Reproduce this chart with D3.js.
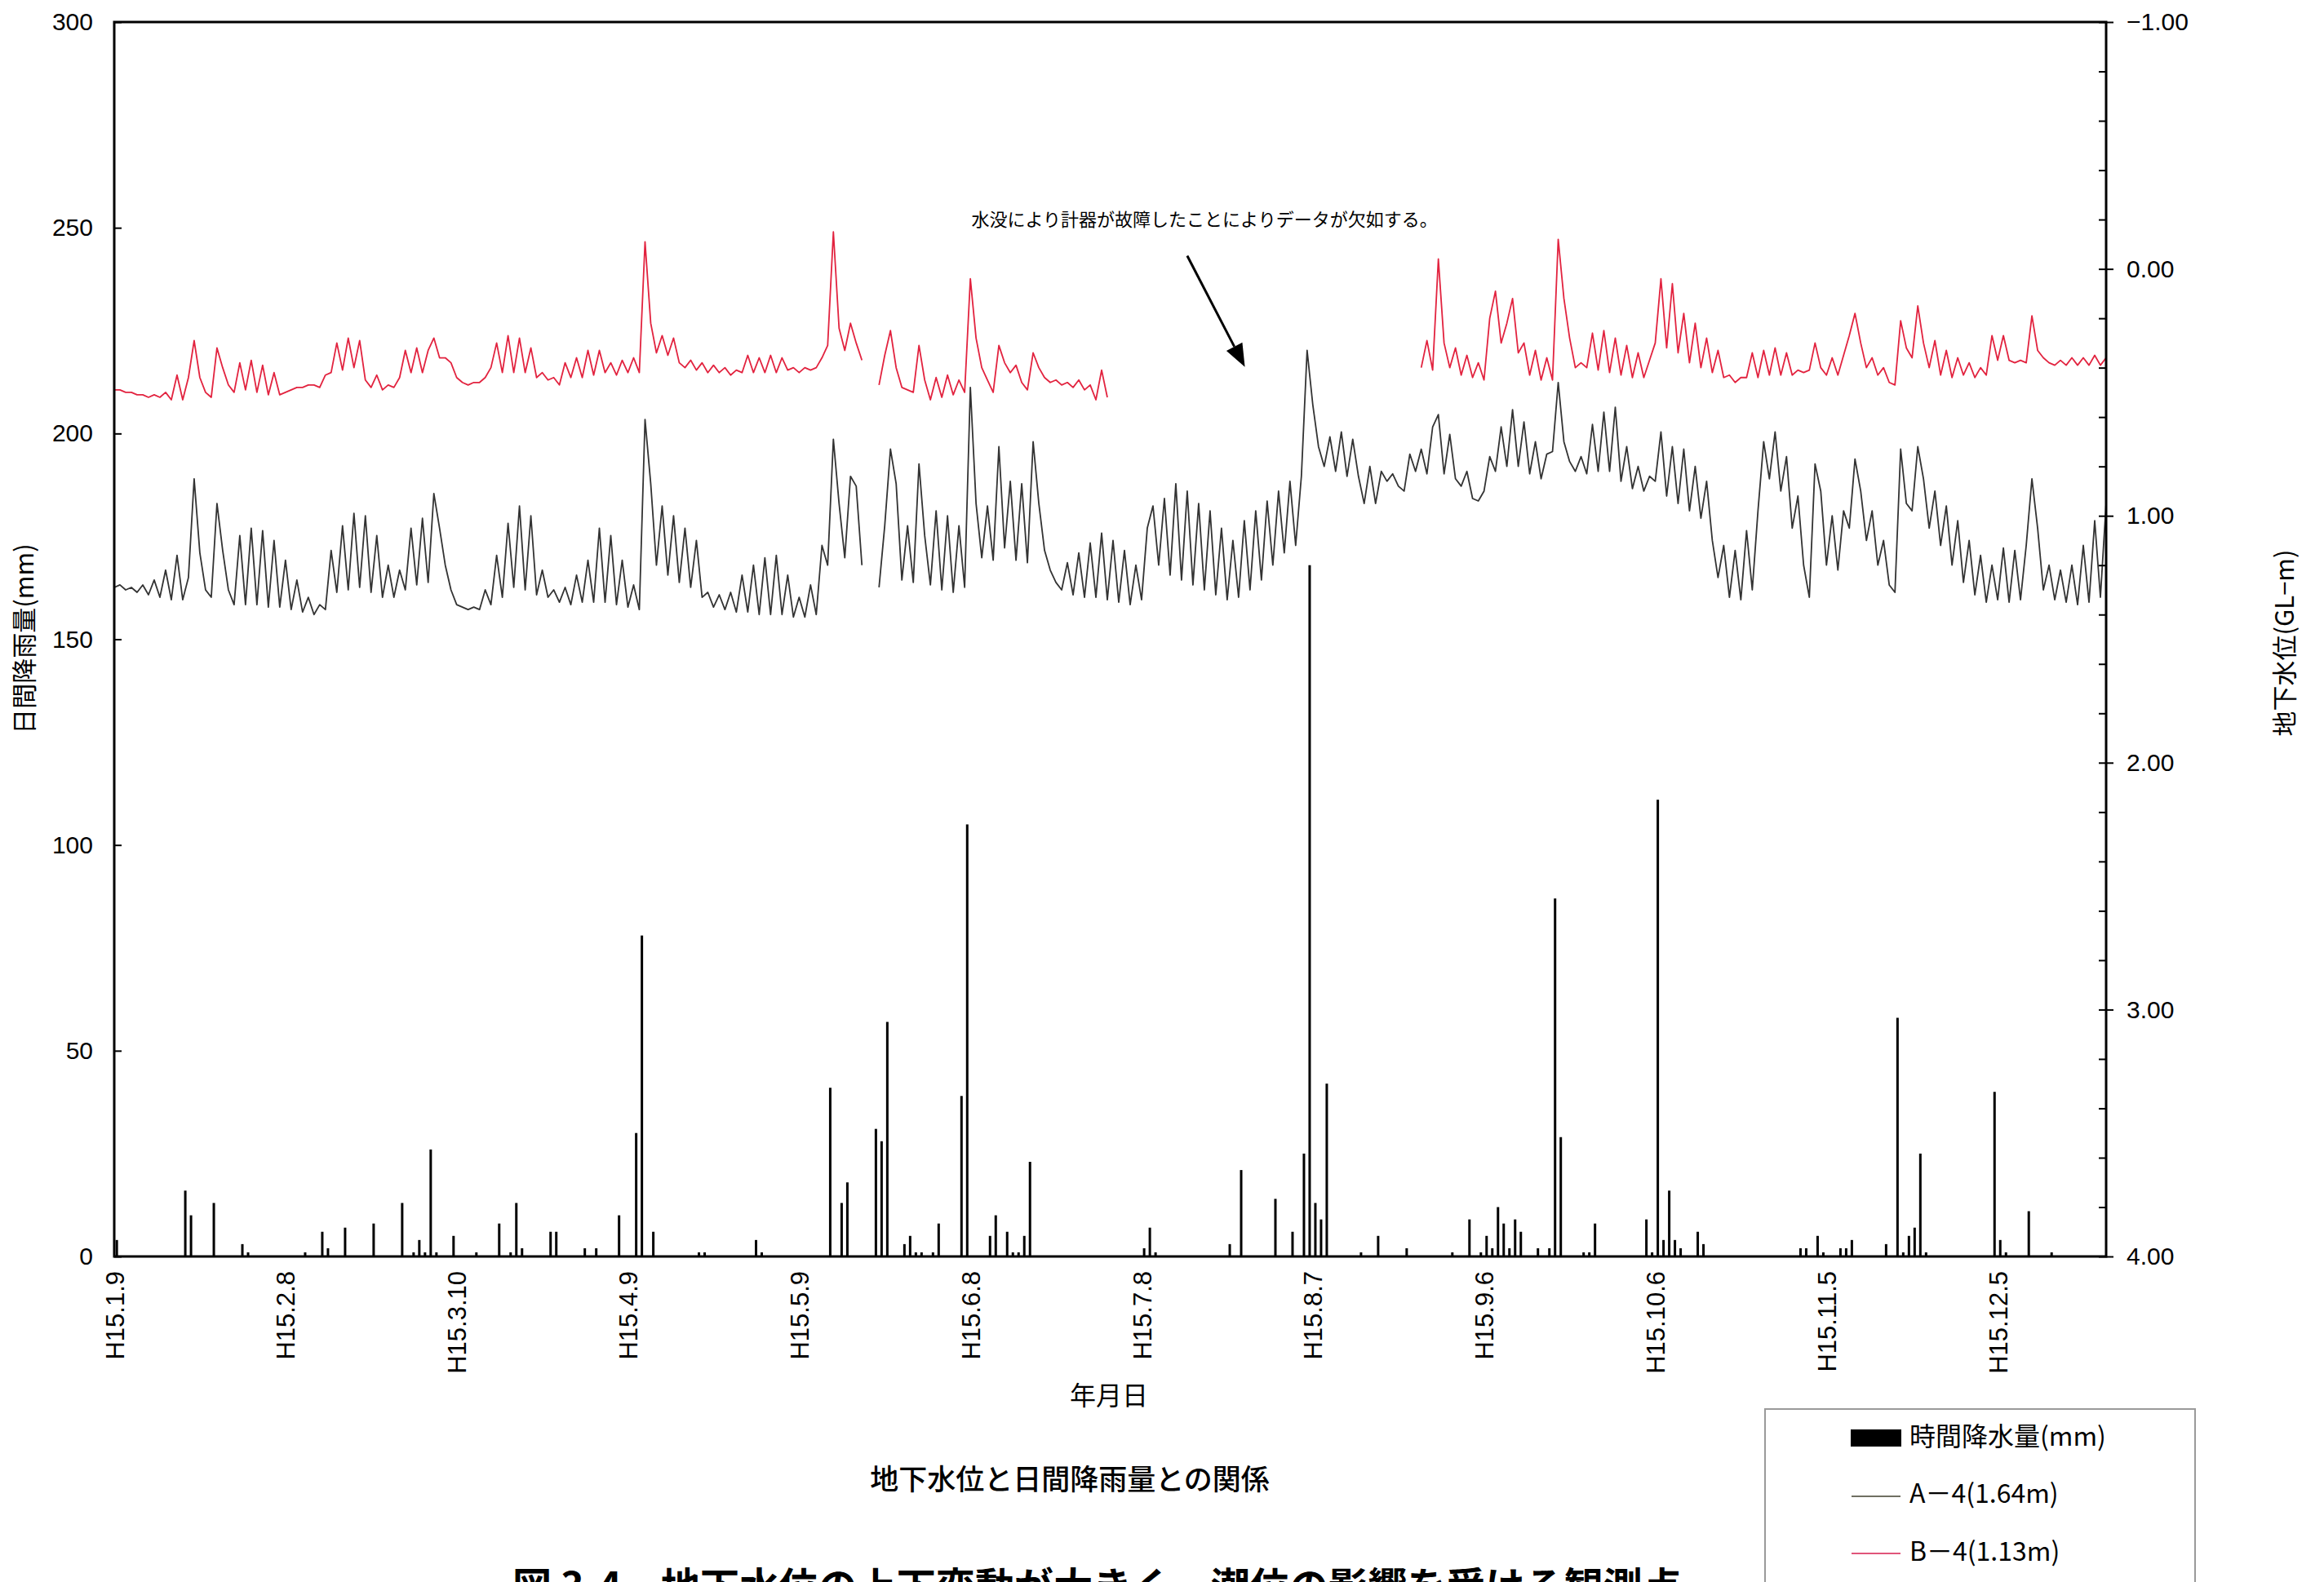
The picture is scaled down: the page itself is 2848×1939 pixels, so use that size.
<!DOCTYPE html>
<html>
<head>
<meta charset="utf-8">
<script src="https://cdn.jsdelivr.net/npm/d3@7"></script>
<style>
  html, body { margin: 0; padding: 0; background: #fff; }
  svg { display: block; }
</style>
</head>
<body>
<script>
const width = 2848;
const height = 1939;
const plotLeft = 140;
const plotRight = 2581;
const plotTop = 27;
const plotBottom = 1540;

const latin = '"Liberation Sans", Arial, sans-serif';
const jp = '"Noto Sans CJK JP", "Noto Sans CJK SC", sans-serif';

// day 0 = H15.1.9 (2003-01-09)
const startDate = Date.UTC(2003, 0, 9);
const lastDay = 349;

const tickDates = ["2003-01-09", "2003-02-08", "2003-03-10", "2003-04-09", "2003-05-09", "2003-06-08",
  "2003-07-08", "2003-08-07", "2003-09-06", "2003-10-06", "2003-11-05", "2003-12-05"];
const rainTicks = [0, 50, 100, 150, 200, 250, 300];
const levelTicks = [-1, 0, 1, 2, 3, 4];

// A-4 groundwater level (GL-m), one reading per day from day 0
const a4Level = [
  1.29,1.28,1.30,1.29,1.31,1.28,1.32,1.26,1.33,1.22,
  1.34,1.16,1.34,1.25,0.85,1.15,1.30,1.33,0.95,1.14,
  1.30,1.36,1.08,1.36,1.05,1.36,1.06,1.37,1.10,1.37,
  1.18,1.38,1.26,1.39,1.33,1.40,1.36,1.38,1.14,1.31,
  1.04,1.30,0.99,1.29,1.00,1.31,1.08,1.33,1.20,1.33,
  1.22,1.30,1.05,1.28,1.01,1.27,0.91,1.05,1.20,1.30,
  1.36,1.37,1.38,1.37,1.38,1.30,1.36,1.16,1.33,1.03,
  1.29,0.96,1.30,1.00,1.32,1.22,1.33,1.30,1.35,1.29,
  1.36,1.24,1.35,1.18,1.35,1.05,1.35,1.08,1.36,1.18,
  1.37,1.28,1.38,0.61,0.87,1.20,0.96,1.24,1.00,1.27,
  1.05,1.29,1.10,1.33,1.31,1.37,1.32,1.38,1.31,1.39,
  1.24,1.39,1.20,1.40,1.17,1.40,1.16,1.40,1.24,1.41,
  1.33,1.41,1.28,1.40,1.12,1.20,0.69,0.95,1.17,0.84,
  0.88,1.20,null,null,1.29,1.04,0.73,0.87,1.26,1.04,
  1.27,0.79,1.08,1.28,0.98,1.30,1.00,1.31,1.04,1.29,
  0.48,0.95,1.17,0.96,1.18,0.72,1.13,0.86,1.18,0.87,
  1.19,0.70,0.95,1.14,1.22,1.27,1.30,1.19,1.32,1.15,
  1.33,1.11,1.33,1.07,1.34,1.10,1.35,1.14,1.36,1.20,
  1.34,1.05,0.96,1.20,0.93,1.24,0.87,1.26,0.90,1.28,
  0.95,1.30,0.98,1.32,1.05,1.34,1.10,1.33,1.02,1.30,
  0.98,1.26,0.94,1.20,0.90,1.15,0.86,1.12,0.84,0.33,
  0.55,0.72,0.80,0.68,0.82,0.66,0.84,0.69,0.84,0.95,
  0.80,0.95,0.82,0.86,0.83,0.88,0.90,0.75,0.82,0.73,
  0.83,0.64,0.59,0.83,0.67,0.85,0.88,0.82,0.93,0.94,
  0.90,0.76,0.82,0.64,0.80,0.57,0.80,0.62,0.83,0.70,
  0.85,0.75,0.74,0.46,0.70,0.78,0.82,0.76,0.83,0.63,
  0.82,0.58,0.82,0.56,0.86,0.72,0.89,0.80,0.90,0.84,
  0.86,0.66,0.92,0.72,0.95,0.73,0.98,0.80,1.01,0.86,
  1.10,1.25,1.12,1.33,1.14,1.34,1.06,1.30,0.98,0.70,
  0.85,0.66,0.90,0.76,1.05,0.92,1.20,1.33,0.79,0.90,
  1.20,1.00,1.22,0.98,1.05,0.77,0.90,1.10,0.98,1.20,
  1.10,1.28,1.31,0.73,0.95,0.98,0.72,0.85,1.05,0.90,
  1.12,0.96,1.20,1.02,1.27,1.10,1.32,1.16,1.35,1.20,
  1.34,1.13,1.35,1.14,1.34,1.12,0.85,1.05,1.30,1.20,
  1.34,1.22,1.35,1.20,1.36,1.12,1.35,1.02,1.33,0.95
];

// B-4 groundwater level (GL-m): day 0..174, then missing until day 229
const b4First = [
  0.49,0.49,0.50,0.50,0.51,0.51,0.52,0.51,0.52,0.50,
  0.53,0.43,0.53,0.44,0.29,0.44,0.50,0.52,0.32,0.40,
  0.47,0.50,0.38,0.49,0.37,0.50,0.39,0.51,0.42,0.51,
  0.50,0.49,0.48,0.48,0.47,0.47,0.48,0.43,0.42,0.30,
  0.41,0.28,0.40,0.29,0.45,0.48,0.43,0.49,0.47,0.48,
  0.44,0.33,0.42,0.32,0.42,0.33,0.28,0.36,0.36,0.38,
  0.44,0.46,0.47,0.46,0.46,0.44,0.40,0.30,0.42,0.27,
  0.42,0.28,0.42,0.32,0.44,0.42,0.45,0.44,0.47,0.38,
  0.44,0.36,0.44,0.33,0.43,0.33,0.42,0.38,0.43,0.37,
  0.42,0.36,0.42,-0.11,0.22,0.34,0.27,0.35,0.28,0.38,
  0.40,0.37,0.41,0.38,0.42,0.39,0.42,0.40,0.43,0.41,
  0.42,0.35,0.42,0.36,0.42,0.35,0.42,0.36,0.41,0.40,
  0.42,0.40,0.41,0.40,0.36,0.31,-0.15,0.24,0.33,0.22,
  0.30,0.37,null,null,0.47,0.35,0.25,0.40,0.48,0.49,
  0.50,0.31,0.45,0.53,0.44,0.52,0.43,0.51,0.45,0.50,
  0.04,0.28,0.40,0.45,0.50,0.31,0.38,0.42,0.39,0.46,
  0.49,0.34,0.40,0.44,0.46,0.45,0.47,0.46,0.48,0.45,
  0.49,0.47,0.53,0.41,0.52
];
const b4SecondStart = 229;
const b4Second = [
  0.40,
  0.29,0.41,-0.04,0.30,0.40,0.32,0.43,0.35,0.44,0.38,
  0.45,0.20,0.09,0.30,0.22,0.12,0.34,0.30,0.43,0.33,
  0.45,0.36,0.45,-0.12,0.12,0.28,0.40,0.38,0.40,0.26,
  0.41,0.25,0.42,0.28,0.43,0.31,0.44,0.34,0.44,0.37,
  0.30,0.04,0.32,0.06,0.34,0.18,0.38,0.22,0.40,0.28,
  0.42,0.33,0.44,0.43,0.46,0.44,0.44,0.34,0.44,0.33,
  0.43,0.32,0.43,0.34,0.43,0.41,0.42,0.41,0.30,0.40,
  0.43,0.36,0.43,0.35,0.27,0.18,0.30,0.40,0.36,0.43,
  0.40,0.46,0.47,0.21,0.32,0.36,0.15,0.30,0.40,0.29,
  0.43,0.33,0.44,0.36,0.43,0.38,0.44,0.40,0.43,0.27,
  0.37,0.27,0.37,0.38,0.37,0.38,0.19,0.33,0.36,0.38,
  0.39,0.37,0.39,0.36,0.39,0.36,0.39,0.35,0.39,0.36
];

// daily rainfall (mm): day number and amount
const rainDay = [0,12,13,17,22,23,33,36,37,40,45,50,52,53,54,55,56,59,63,67,69,70,71,76,77,82,84,88,91,92,94,
  102,103,112,113,125,127,128,133,134,135,138,139,140,141,143,144,148,149,153,154,156,157,158,159,160,
  180,181,182,195,197,203,206,208,209,210,211,212,218,221,226,234,237,239,240,241,242,243,244,245,246,
  249,251,252,253,257,258,259,268,269,270,271,272,273,274,277,278,295,296,298,299,302,303,304,310,312,
  313,314,315,316,317,329,330,331,335,339];
const rainMm = [4,16,10,13,3,1,1,6,2,7,8,13,1,4,1,26,1,5,1,8,1,13,2,6,6,2,2,10,30,78,6,
  1,1,4,1,41,13,18,31,28,57,3,5,1,1,1,8,39,105,5,10,6,1,1,5,23,
  2,7,1,3,21,14,6,25,168,13,9,42,1,5,2,1,9,1,5,2,12,8,2,9,6,
  2,2,87,29,1,1,8,9,1,111,4,16,4,2,6,3,2,2,5,1,2,2,4,3,58,
  1,5,7,25,1,40,4,1,11,1];

const day = d => new Date(startDate + d * 864e5);

const x = d3.scaleUtc([day(0), day(lastDay)], [plotLeft, plotRight]);
const yRain = d3.scaleLinear([0, 300], [plotBottom, plotTop]);
const yLevel = d3.scaleLinear([-1, 4], [plotTop, plotBottom]);

const svg = d3.select("body").append("svg")
  .attr("width", width)
  .attr("height", height)
  .attr("viewBox", [0, 0, width, height]);

svg.append("rect").attr("width", width).attr("height", height).attr("fill", "#fff");

// rainfall bars
svg.append("g")
  .attr("fill", "#000")
  .selectAll("rect")
  .data(rainDay)
  .join("rect")
  .attr("x", (d) => x(day(d + 0.45)) - 1.5)
  .attr("width", 3)
  .attr("y", (d, i) => yRain(rainMm[i]))
  .attr("height", (d, i) => yRain(0) - yRain(rainMm[i]));

// groundwater lines
const line = d3.line()
  .defined(p => p.v != null)
  .x(p => x(day(p.d)))
  .y(p => yLevel(p.v));

const a4Points = a4Level.map((v, d) => ({ d, v }));
const b4Points = b4First.map((v, d) => ({ d, v }))
  .concat([{ d: b4First.length, v: null }])
  .concat(b4Second.map((v, i) => ({ d: b4SecondStart + i, v })));

svg.append("path")
  .attr("fill", "none")
  .attr("stroke", "#333")
  .attr("stroke-width", 1.8)
  .attr("stroke-linejoin", "round")
  .attr("d", line(a4Points));

svg.append("path")
  .attr("fill", "none")
  .attr("stroke", "#e2233f")
  .attr("stroke-width", 1.8)
  .attr("stroke-linejoin", "round")
  .attr("d", line(b4Points));

// frame
svg.append("rect")
  .attr("x", plotLeft)
  .attr("y", plotTop)
  .attr("width", plotRight - plotLeft)
  .attr("height", plotBottom - plotTop)
  .attr("fill", "none")
  .attr("stroke", "#000")
  .attr("stroke-width", 3);

// left axis
svg.append("g")
  .attr("transform", `translate(${plotLeft},0)`)
  .call(d3.axisLeft(yRain).tickValues(rainTicks).tickSize(-9).tickPadding(26))
  .call(g => g.select(".domain").remove())
  .call(g => g.selectAll("line").attr("stroke-width", 2))
  .call(g => g.selectAll("text").attr("font-size", 30).attr("font-family", latin).attr("fill", "#000"));

// right axis: minor ticks inside, majors crossing
svg.append("g")
  .attr("transform", `translate(${plotRight},0)`)
  .call(d3.axisRight(yLevel).tickValues(d3.range(-1, 4.001, 0.2)).tickSize(-9).tickFormat(""))
  .call(g => g.select(".domain").remove())
  .call(g => g.selectAll("line").attr("stroke-width", 2));

svg.append("g")
  .attr("transform", `translate(${plotRight},0)`)
  .call(d3.axisRight(yLevel).tickValues(levelTicks).tickSize(9).tickPadding(16).tickFormat(d3.format(".2f")))
  .call(g => g.select(".domain").remove())
  .call(g => g.selectAll("line").attr("stroke-width", 2))
  .call(g => g.selectAll("text").attr("font-size", 30).attr("font-family", latin).attr("fill", "#000"));

// bottom axis with vertical labels
svg.append("g")
  .attr("transform", `translate(0,${plotBottom})`)
  .call(d3.axisBottom(x)
    .tickValues(tickDates.map(s => new Date(s + "T00:00:00Z")))
    .tickSize(0)
    .tickFormat(d => `H15.${d.getUTCMonth() + 1}.${d.getUTCDate()}`))
  .call(g => g.select(".domain").remove())
  .call(g => g.selectAll("text")
    .attr("transform", "rotate(-90)")
    .attr("x", -18)
    .attr("y", 0)
    .attr("dy", "0.36em")
    .attr("text-anchor", "end")
    .attr("font-size", 31)
    .attr("font-family", latin)
    .attr("fill", "#000"));

// axis titles
svg.append("text")
  .attr("transform", "translate(33,783) rotate(-90)")
  .attr("text-anchor", "middle")
  .attr("dominant-baseline", "middle")
  .attr("font-family", jp)
  .attr("font-size", 31)
  .text("日間降雨量(mm)");

svg.append("text")
  .attr("transform", "translate(2803,788) rotate(-90)")
  .attr("text-anchor", "middle")
  .attr("dominant-baseline", "middle")
  .attr("font-family", jp)
  .attr("font-size", 31)
  .text("地下水位(GL−m)");

svg.append("text")
  .attr("x", 1359).attr("y", 1713)
  .attr("text-anchor", "middle")
  .attr("dominant-baseline", "middle")
  .attr("font-family", jp)
  .attr("font-size", 32)
  .text("年月日");

svg.append("text")
  .attr("x", 1311).attr("y", 1816)
  .attr("text-anchor", "middle")
  .attr("dominant-baseline", "middle")
  .attr("font-family", jp)
  .attr("font-weight", 500)
  .attr("font-size", 35)
  .text("地下水位と日間降雨量との関係");

svg.append("text")
  .attr("x", 628).attr("y", 1962)
  .attr("font-family", jp)
  .attr("font-weight", 700)
  .attr("font-size", 48)
  .attr("textLength", 1433)
  .attr("lengthAdjust", "spacing")
  .text("図 3-4　地下水位の上下変動が大きく、潮位の影響を受ける観測点");

// annotation about the missing data
svg.append("text")
  .attr("x", x(day(150.2)))
  .attr("y", yLevel(-0.195))
  .attr("dominant-baseline", "middle")
  .attr("font-family", jp)
  .attr("font-size", 22)
  .text("水没により計器が故障したことによりデータが欠如する。");

const arrowFrom = [x(day(188)), yLevel(-0.053)];
const arrowTip = [x(day(198.1)), yLevel(0.397)];
const ang = Math.atan2(arrowTip[1] - arrowFrom[1], arrowTip[0] - arrowFrom[0]);
const headLen = 28, headHalf = 11;
const base = [arrowTip[0] - headLen * Math.cos(ang), arrowTip[1] - headLen * Math.sin(ang)];

svg.append("line")
  .attr("x1", arrowFrom[0]).attr("y1", arrowFrom[1])
  .attr("x2", base[0]).attr("y2", base[1])
  .attr("stroke", "#000")
  .attr("stroke-width", 3);

svg.append("path")
  .attr("fill", "#000")
  .attr("d", d3.line()([
    arrowTip,
    [base[0] + headHalf * Math.sin(ang), base[1] - headHalf * Math.cos(ang)],
    [base[0] - headHalf * Math.sin(ang), base[1] + headHalf * Math.cos(ang)]
  ]) + "Z");

// legend
const legend = svg.append("g");
legend.append("rect")
  .attr("x", 2163).attr("y", 1727)
  .attr("width", 527).attr("height", 240)
  .attr("fill", "#fff")
  .attr("stroke", "#9a9a9a")
  .attr("stroke-width", 2);

legend.append("rect")
  .attr("x", 2268).attr("y", 1752)
  .attr("width", 62).attr("height", 21)
  .attr("fill", "#000");

legend.append("line")
  .attr("x1", 2269).attr("x2", 2329)
  .attr("y1", 1834).attr("y2", 1834)
  .attr("stroke", "#6f6f62").attr("stroke-width", 2);

legend.append("line")
  .attr("x1", 2269).attr("x2", 2329)
  .attr("y1", 1904).attr("y2", 1904)
  .attr("stroke", "#e0557a").attr("stroke-width", 2);

const legendText = [["時間降水量(mm)", 1763], ["A－4(1.64m)", 1833], ["B－4(1.13m)", 1904]];
legend.selectAll("text.lt")
  .data(legendText)
  .join("text")
  .attr("class", "lt")
  .attr("x", 2340)
  .attr("y", d => d[1])
  .attr("dominant-baseline", "middle")
  .attr("font-family", jp)
  .attr("font-size", 32)
  .text(d => d[0]);
</script>
</body>
</html>
